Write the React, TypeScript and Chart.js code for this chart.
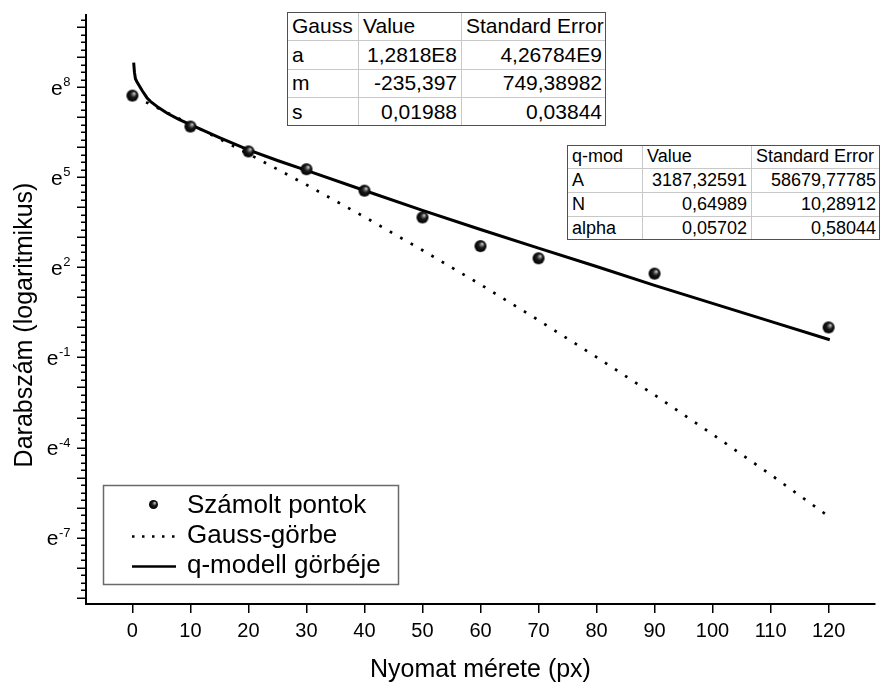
import React, { useEffect, useRef } from 'react';
import { Chart, registerables } from 'chart.js';

Chart.register(...registerables);

const FONT = "'Liberation Sans', Arial, sans-serif";

// X axis ticks
const xTicks = [0, 10, 20, 30, 40, 50, 60, 70, 80, 90, 100, 110, 120];
// Y axis labelled exponents (powers of e)
const yLabelExps = [8, 5, 2, -1, -4, -7];

// Measured points ("Számolt pontok")
const pointX = [0, 10, 20, 30, 40, 50, 60, 70, 90, 120];
const pointY = [2253, 804, 351, 194, 95, 39, 15, 10, 6, 1];

// Gauss curve, read as exponents of e
const gaussX = [2.35, 10, 20, 30, 40, 50, 60, 70, 80, 90, 100, 110, 120];
const gaussLn = [7.5, 6.77, 5.78, 4.75, 3.68, 2.57, 1.43, 0.24, -0.99, -2.25, -3.56, -4.9, -6.29];

// q-model curve, read as exponents of e
const qX = [0.22, 0.35, 0.52, 0.75, 1.08, 1.7, 2.5, 3.1, 4.5, 6, 8, 10, 15, 20, 25, 30, 40, 50, 60, 70, 80, 90, 100, 110, 120.2];
const qLn = [8.82, 8.5, 8.28, 8.19, 8.08, 7.88, 7.65, 7.53, 7.32, 7.13, 6.93, 6.75, 6.32, 5.91, 5.56, 5.23, 4.56, 3.9, 3.26, 2.64, 2.03, 1.4, 0.8, 0.2, -0.41];

const legendLabels = ['Számolt pontok', 'Gauss-görbe', 'q-modell görbéje'];

const gaussRows = [
  ['Gauss', 'Value', 'Standard Error'],
  ['a', '1,2818E8', '4,26784E9'],
  ['m', '-235,397', '749,38982'],
  ['s', '0,01988', '0,03844'],
];
const qRows = [
  ['q-mod', 'Value', 'Standard Error'],
  ['A', '3187,32591', '58679,77785'],
  ['N', '0,64989', '10,28912'],
  ['alpha', '0,05702', '0,58044'],
];

function makeBall(r: number): HTMLCanvasElement {
  const c = document.createElement('canvas');
  const s = Math.ceil(r * 2) + 2;
  c.width = s;
  c.height = s;
  const g = c.getContext('2d')!;
  const cx = s / 2;
  const cy = s / 2;
  const grad = g.createRadialGradient(cx + r * 0.35, cy - r * 0.4, 0, cx, cy, r);
  grad.addColorStop(0, '#ffffff');
  grad.addColorStop(0.18, '#909090');
  grad.addColorStop(0.5, '#1a1a1a');
  grad.addColorStop(1, '#000000');
  g.fillStyle = grad;
  g.beginPath();
  g.arc(cx, cy, r, 0, Math.PI * 2);
  g.fill();
  return c;
}

function StatTable(props: { rows: string[][]; left: number; top: number; colW: number[]; rowH: number; fontSize: number }) {
  const { rows, left, top, colW, rowH, fontSize } = props;
  const W = colW.reduce((a, b) => a + b, 0);
  const H = rowH * rows.length;
  const xs = [0];
  colW.forEach((w) => xs.push(xs[xs.length - 1] + w));
  const items: any[] = [];
  for (let c = 1; c < colW.length; c++) {
    items.push(<div key={'v' + c} style={{ position: 'absolute', left: xs[c] - 0.5, top: 0, width: 1, height: H, background: '#c8c8c8' }} />);
  }
  for (let r = 1; r < rows.length; r++) {
    items.push(<div key={'h' + r} style={{ position: 'absolute', left: 0, top: r * rowH - 0.5, width: W, height: 1, background: '#c8c8c8' }} />);
  }
  rows.forEach((row, r) =>
    row.forEach((txt, c) => {
      const right = r > 0 && c > 0;
      items.push(
        <div
          key={r + '-' + c}
          style={{
            position: 'absolute',
            left: xs[c],
            top: r * rowH,
            width: colW[c],
            height: rowH,
            display: 'flex',
            alignItems: 'center',
            justifyContent: right ? 'flex-end' : 'flex-start',
            padding: '0 4px 0 5px',
            boxSizing: 'border-box',
            whiteSpace: 'nowrap',
          }}
        >
          {txt}
        </div>
      );
    })
  );
  items.push(
    <div key="border" style={{ position: 'absolute', left: 0, top: 0, width: W, height: H, boxSizing: 'border-box', border: '1.5px solid #505050' }} />
  );
  return (
    <div style={{ position: 'absolute', left, top, width: W, height: H, background: '#fff', fontFamily: FONT, fontSize, color: '#000' }}>
      {items}
    </div>
  );
}

export default function App() {
  const canvasRef = useRef<HTMLCanvasElement | null>(null);

  useEffect(() => {
    const canvas = canvasRef.current;
    if (!canvas) return;
    const ball = makeBall(6);
    const legendBall = makeBall(4.5);

    const customPlugin = {
      id: 'customDecor',
      afterDraw(chart: any) {
        const ctx = chart.ctx;
        const area = chart.chartArea;
        const ys = chart.scales.y;
        ctx.save();
        // y ticks (integer exponents long, quarter exponents short)
        ctx.strokeStyle = '#000';
        ctx.lineWidth = 1.5;
        const lnMin = Math.log(ys.min);
        const lnMax = Math.log(ys.max);
        for (let n = -12; n <= 12; n++) {
          for (let q = 0; q < 4; q++) {
            const L = n + q / 4;
            if (L < lnMin - 1e-6 || L > lnMax + 1e-6) continue;
            const py = Math.round(ys.getPixelForValue(Math.exp(L))) + 0.25;
            const len = q === 0 ? 9 : 5;
            ctx.beginPath();
            ctx.moveTo(area.left - len, py);
            ctx.lineTo(area.left, py);
            ctx.stroke();
          }
        }
        // y labels e^n
        ctx.fillStyle = '#000';
        ctx.textBaseline = 'alphabetic';
        ctx.textAlign = 'right';
        const labelRight = 70.5;
        yLabelExps.forEach((e) => {
          const py = ys.getPixelForValue(Math.exp(e));
          const sup = String(e);
          ctx.font = '13px ' + FONT;
          const supW = ctx.measureText(sup).width;
          ctx.fillText(sup, labelRight, py - 1);
          ctx.font = '21px ' + FONT;
          ctx.fillText('e', labelRight - supW - 0.5, py + 7.5);
        });
        // axis titles
        ctx.font = '25px ' + FONT;
        ctx.textAlign = 'center';
        ctx.fillText('Nyomat mérete (px)', (area.left + area.right) / 2, 677);
        ctx.save();
        ctx.translate(31.5, 325);
        ctx.rotate(-Math.PI / 2);
        ctx.fillText('Darabszám (logaritmikus)', 0, 0);
        ctx.restore();

        // legend
        ctx.strokeStyle = '#6a6a6a';
        ctx.lineWidth = 1.5;
        ctx.strokeRect(103.5, 485.5, 295, 99);
        ctx.drawImage(legendBall, 153.5 - legendBall.width / 2, 504.5 - legendBall.height / 2);
        ctx.strokeStyle = '#000';
        ctx.lineWidth = 2.5;
        ctx.setLineDash([2.5, 7.5]);
        ctx.beginPath();
        ctx.moveTo(132, 536.5);
        ctx.lineTo(176, 536.5);
        ctx.stroke();
        ctx.setLineDash([]);
        ctx.beginPath();
        ctx.moveTo(132, 566.5);
        ctx.lineTo(176, 566.5);
        ctx.stroke();
        ctx.font = '26px ' + FONT;
        ctx.textAlign = 'left';
        ctx.fillText(legendLabels[0], 187, 513);
        ctx.fillText(legendLabels[1], 187, 543);
        ctx.fillText(legendLabels[2], 187, 573);
        ctx.restore();
      },
    };

    const chart = new Chart(canvas, {
      type: 'scatter',
      data: {
        datasets: [
          {
            label: legendLabels[0],
            data: pointX.map((x, i) => ({ x, y: pointY[i] })),
            pointStyle: ball as any,
            pointRadius: 6,
            showLine: false,
            order: 0,
          },
          {
            label: legendLabels[1],
            data: gaussX.map((x, i) => ({ x, y: Math.exp(gaussLn[i]) })),
            showLine: true,
            pointRadius: 0,
            borderColor: '#000',
            borderWidth: 2.7,
            borderDash: [2.7, 9.3],
            borderCapStyle: 'butt',
            tension: 0,
            order: 2,
          },
          {
            label: legendLabels[2],
            data: qX.map((x, i) => ({ x, y: Math.exp(qLn[i]) })),
            showLine: true,
            pointRadius: 0,
            borderColor: '#000',
            borderWidth: 3,
            tension: 0,
            order: 1,
          },
        ] as any,
      },
      options: {
        responsive: false,
        animation: false,
        events: [],
        layout: { padding: { left: 0, right: 4, top: 15, bottom: 0 } },
        plugins: {
          legend: { display: false },
          tooltip: { enabled: false },
          title: { display: false },
        },
        scales: {
          x: {
            type: 'linear',
            min: -8,
            max: 128,
            afterBuildTicks: (s: any) => {
              s.ticks = xTicks.map((v) => ({ value: v }));
            },
            afterFit: (s: any) => {
              s.height = 80;
            },
            border: { display: true, color: '#000', width: 2 },
            grid: {
              display: true,
              drawOnChartArea: false,
              drawTicks: true,
              tickLength: 9,
              tickWidth: 1.5,
              tickColor: '#000',
              color: '#000',
              lineWidth: 1.5,
            },
            ticks: {
              font: { family: FONT, size: 20 },
              color: '#000',
              padding: 6,
              maxRotation: 0,
              autoSkip: false,
            },
          },
          y: {
            type: 'logarithmic',
            min: 1e-4,
            max: 33000,
            afterFit: (s: any) => {
              s.width = 86;
            },
            border: { display: true, color: '#000', width: 2 },
            grid: { display: false },
            ticks: { display: false },
          },
        },
      } as any,
      plugins: [customPlugin],
    });

    return () => {
      chart.destroy();
    };
  }, []);

  return (
    <div style={{ position: 'absolute', left: 0, top: 0, width: 882, height: 684, background: '#fff' }}>
      <canvas ref={canvasRef} width={882} height={684} style={{ display: 'block', width: 882, height: 684 }} />
      <StatTable rows={gaussRows} left={287} top={12} colW={[71, 103, 145]} rowH={28.5} fontSize={21} />
      <StatTable rows={qRows} left={567} top={145} colW={[75, 109, 129]} rowH={23.75} fontSize={18} />
    </div>
  );
}
